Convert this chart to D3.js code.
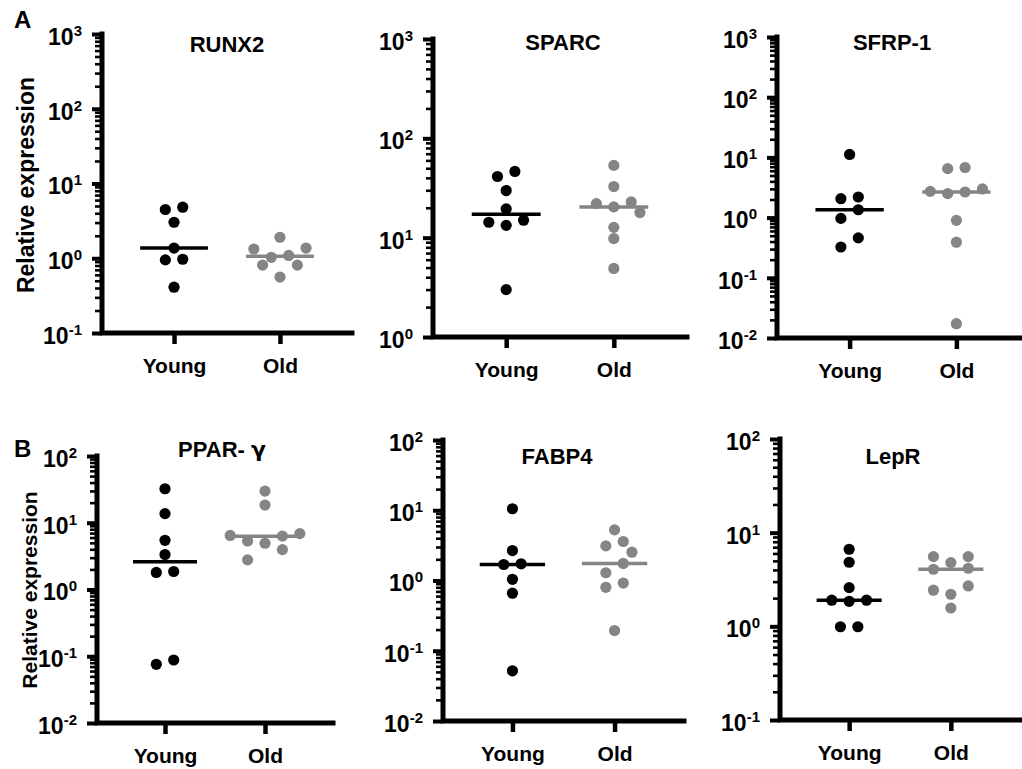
<!DOCTYPE html>
<html>
<head>
<meta charset="utf-8">
<script src="https://cdn.jsdelivr.net/npm/d3@7"></script>
<style>
  html, body { margin: 0; padding: 0; background: #fff; }
  svg { display: block; font-family: "Liberation Sans", Arial, sans-serif; }
</style>
</head>
<body>
<svg id="chart" width="1022" height="769"></svg>
<script>
// ---- data: relative expression per donor, by gene and age group ----
const groups = ["Young", "Old"];
const genes = ["RUNX2", "SPARC", "SFRP-1", "PPAR- γ", "FABP4", "LepR"];

const runx2Young = [4.82, 4.49, 3.03, 1.37, 0.97, 0.95, 0.41];
const runx2Old   = [1.91, 1.37, 1.33, 1.09, 1.03, 0.81, 0.81, 0.56];

const sparcYoung = [46.4, 41.3, 29.8, 19.5, 15.0, 14.3, 13.3, 3.0];
const sparcOld   = [53.4, 32.7, 22.9, 22.0, 20.4, 17.9, 12.7, 9.8, 4.9];

const sfrp1Young = [11.2, 2.2, 2.06, 1.35, 0.97, 0.46, 0.325];
const sfrp1Old   = [6.8, 6.5, 2.99, 2.73, 2.66, 2.5, 0.90, 0.39, 0.0173];

const pparYoung  = [32.3, 13.7, 5.46, 3.34, 1.86, 1.80, 0.0879, 0.0757];
const pparOld    = [29.8, 18.4, 6.87, 6.45, 6.3, 5.34, 4.93, 3.96, 2.78];

const fabp4Young = [10.5, 2.67, 1.73, 1.69, 1.04, 0.66, 0.0518];
const fabp4Old   = [5.26, 3.59, 3.11, 2.53, 1.75, 1.29, 0.92, 0.80, 0.194];

const leprYoung  = [6.65, 4.83, 2.59, 1.90, 1.90, 1.85, 0.99, 0.99];
const leprOld    = [5.55, 5.55, 4.79, 4.17, 4.07, 2.70, 2.43, 2.20, 1.57];

// log axis range (powers of ten) for each gene
const axisMinExp = [-1, 0, -2, -2, -2, -1];
const axisMaxExp = [3, 3, 3, 2, 2, 2];

const seriesByGene = [
  [runx2Young, runx2Old],
  [sparcYoung, sparcOld],
  [sfrp1Young, sfrp1Old],
  [pparYoung, pparOld],
  [fabp4Young, fabp4Old],
  [leprYoung, leprOld]
];

// ---- layout of the six panels (pixel frames) ----
const frames = [
  { left: 102, right: 352, top: 34,  bottom: 333, titleX: 227, titleY: 52 },
  { left: 433, right: 687, top: 39,  bottom: 337, titleX: 563, titleY: 50 },
  { left: 777, right: 1029, top: 37, bottom: 338, titleX: 892, titleY: 50 },
  { left: 97,  right: 333, top: 456, bottom: 723, titleX: 222, titleY: 457 },
  { left: 443, right: 684, top: 440, bottom: 721, titleX: 557, titleY: 464 },
  { left: 780, right: 1020, top: 439, bottom: 720, titleX: 893, titleY: 464 }
];

const colors = ["#000000", "#858585"];
const R = 5.6;          // dot radius
const SPACING = 17.4;   // horizontal distance between dots in one row
const HALF = SPACING / 2;
const ROW_H = 10.5;     // values closer than this (px) share a row
const MIN_D = 11;       // dots closer than this overlap
const FONT = '"Liberation Sans", Arial, sans-serif';

const svg = d3.select("#chart");

// GraphPad-like scatter layout: rows of dots spread symmetrically around the group centre
function swarm(values, y, cx) {
  const pts = values.map(v => ({ v, y: y(v) })).sort((a, b) => a.y - b.y);
  const rows = [];
  let cur = null;
  for (const p of pts) {
    if (!cur || p.y - cur[0].y > ROW_H) { cur = [p]; rows.push(cur); }
    else cur.push(p);
  }
  const placed = [];
  for (const row of rows) {
    const n = row.length;
    const base = d3.range(n).map(i => (i - (n - 1) / 2) * SPACING);
    const patterns = [];
    for (let k = 0; k <= 4; k++) {
      patterns.push(base.map(o => o === 0 ? 0 : o + Math.sign(o) * k * HALF));
    }
    for (const k of [1, -1, 2, -2, 3, -3]) patterns.push(base.map(o => o + k * HALF));
    let chosen = null;
    for (const pat of patterns) {
      // outer slots first, right before left
      const slots = pat.slice().sort((a, b) => (Math.abs(b) - Math.abs(a)) || (b - a));
      const trial = row.map((p, i) => ({ v: p.v, y: p.y, x: cx + slots[i] }));
      const clash = trial.some(t => placed.some(q => Math.hypot(q.x - t.x, q.y - t.y) < MIN_D));
      if (!clash) { chosen = trial; break; }
    }
    if (!chosen) {
      const slots = base.slice().sort((a, b) => (Math.abs(b) - Math.abs(a)) || (b - a));
      chosen = row.map((p, i) => ({ v: p.v, y: p.y, x: cx + slots[i] }));
    }
    placed.push(...chosen);
  }
  return placed;
}

function drawPanel(idx) {
  const f = frames[idx];
  const g = svg.append("g");
  const y = d3.scaleLog()
    .domain([Math.pow(10, axisMinExp[idx]), Math.pow(10, axisMaxExp[idx])])
    .range([f.bottom, f.top]);
  const x = d3.scalePoint().domain(groups).range([f.left, f.right]).padding(0.68);
  const unit = x.step();

  const majors = d3.range(axisMinExp[idx], axisMaxExp[idx] + 1).map(e => Math.pow(10, e));
  const minors = [];
  for (let e = axisMinExp[idx]; e < axisMaxExp[idx]; e++) {
    for (let m = 2; m <= 9; m++) minors.push(m * Math.pow(10, e));
  }

  // minor ticks
  g.append("g")
    .attr("transform", `translate(${f.left},0)`)
    .call(d3.axisLeft(y).tickValues(minors).tickSize(7).tickSizeOuter(0).tickFormat(""))
    .call(s => s.select(".domain").remove())
    .call(s => s.selectAll("line").attr("stroke", "#000").attr("stroke-width", 2.6));

  // major ticks with 10^n labels
  const ya = g.append("g")
    .attr("transform", `translate(${f.left},0)`)
    .call(d3.axisLeft(y).tickValues(majors).tickSize(10).tickSizeOuter(0).tickPadding(10))
    .call(s => s.select(".domain").remove())
    .call(s => s.selectAll("line").attr("stroke", "#000").attr("stroke-width", 4));
  ya.selectAll(".tick text")
    .attr("fill", "#000")
    .attr("font-family", FONT)
    .attr("font-weight", "bold")
    .attr("font-size", 23)
    .attr("dy", "0.45em")
    .each(function (d) {
      const t = d3.select(this);
      const e = Math.round(Math.log10(d));
      t.text(null);
      t.append("tspan").text("10");
      t.append("tspan").attr("font-size", 15).attr("dy", -9).text(String(e));
    });

  // x axis with category ticks
  const xa = g.append("g")
    .attr("transform", `translate(0,${f.bottom})`)
    .call(d3.axisBottom(x).tickSize(11).tickSizeOuter(0).tickPadding(14));
  xa.select(".domain").remove();
  xa.selectAll("line").attr("stroke", "#000").attr("stroke-width", 4.5);
  xa.selectAll("text")
    .attr("fill", "#000")
    .attr("font-family", FONT)
    .attr("font-weight", "bold")
    .attr("font-size", 21)
    .attr("dy", "0.71em");

  // axis lines
  g.append("path")
    .attr("d", `M${f.left},${f.top}V${f.bottom}H${f.right}`)
    .attr("fill", "none")
    .attr("stroke", "#000")
    .attr("stroke-width", 5)
    .attr("stroke-linecap", "square");

  // dots and median lines
  groups.forEach((grp, gi) => {
    const vals = seriesByGene[idx][gi];
    const cx = x(grp);
    const pts = swarm(vals, y, cx);
    g.append("g").selectAll("circle").data(pts).join("circle")
      .attr("cx", d => d.x)
      .attr("cy", d => d.y)
      .attr("r", R)
      .attr("fill", colors[gi]);
    const med = d3.median(vals);
    g.append("line")
      .attr("x1", cx - 0.32 * unit)
      .attr("x2", cx + 0.32 * unit)
      .attr("y1", y(med))
      .attr("y2", y(med))
      .attr("stroke", colors[gi])
      .attr("stroke-width", 3.5);
  });

  // title
  const title = g.append("text")
    .attr("x", f.titleX)
    .attr("y", f.titleY)
    .attr("text-anchor", "middle")
    .attr("font-family", FONT)
    .attr("font-weight", "bold")
    .attr("font-size", 22)
    .attr("fill", "#000");
  if (genes[idx].includes("γ")) {
    title.append("tspan").text("PPAR- ");
    title.append("tspan").attr("font-family", '"DejaVu Sans", sans-serif').text("γ");
  } else {
    title.text(genes[idx]);
  }
}

d3.range(genes.length).forEach(drawPanel);

// panel letters and y-axis titles
svg.append("text").attr("x", 14).attr("y", 28)
  .attr("font-family", FONT).attr("font-weight", "bold").attr("font-size", 24).text("A");
svg.append("text").attr("x", 14).attr("y", 457)
  .attr("font-family", FONT).attr("font-weight", "bold").attr("font-size", 24).text("B");

svg.append("text")
  .attr("transform", "translate(34,185) rotate(-90)")
  .attr("text-anchor", "middle")
  .attr("font-family", FONT).attr("font-weight", "bold").attr("font-size", 23)
  .text("Relative expression");
svg.append("text")
  .attr("transform", "translate(37,590) rotate(-90)")
  .attr("text-anchor", "middle")
  .attr("font-family", FONT).attr("font-weight", "bold").attr("font-size", 21)
  .text("Relative expression");
</script>
</body>
</html>
